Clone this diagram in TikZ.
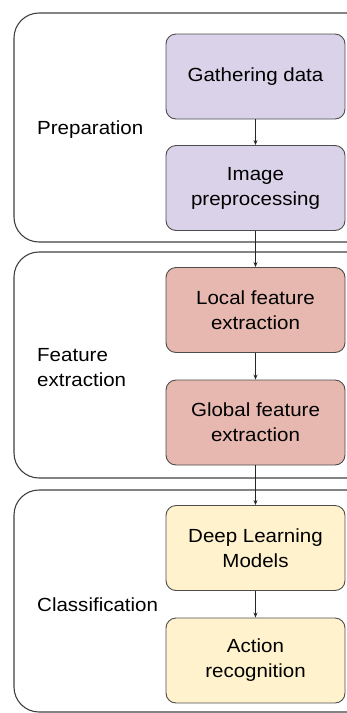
\documentclass[tikz,border=0pt]{standalone}
\usepackage{fontspec}
\setmainfont{Liberation Sans}[FakeStretch=1.08]
\usetikzlibrary{arrows.meta}
\definecolor{purp}{HTML}{D9D2E9}
\definecolor{redb}{HTML}{E6B8AF}
\definecolor{yelb}{HTML}{FFF2CC}
\begin{document}
\begin{tikzpicture}[x=1pt,y=-1pt,
 panel/.style={draw=black!75, line width=1.1pt, rounded corners=25pt},
 stepbox/.style={draw=black!70, line width=0.9pt, rounded corners=10pt, minimum width=179pt, minimum height=85pt, align=center, font=\fontsize{19}{25}\selectfont, inner sep=0pt},
 lbl/.style={anchor=west, align=left, font=\fontsize{19}{25}\selectfont, inner sep=0pt},
 arr/.style={-{Stealth[length=5pt,width=4pt]}, line width=0.8pt, draw=black!85}]
\useasboundingbox (0,0) rectangle (347,713);
\begin{scope}
\clip (0,0) rectangle (347,713);
\draw[panel] (14,13) rectangle (380,242);
\draw[panel] (14,252) rectangle (380,478);
\draw[panel] (14,490) rectangle (380,712);
\node[stepbox, fill=purp] (gather) at (255.5,76.5) {Gathering data};
\node[stepbox, fill=purp] (prep) at (255.5,188) {Image\\preprocessing};
\node[stepbox, fill=redb] (local) at (255.5,310) {Local feature\\extraction};
\node[stepbox, fill=redb] (global) at (255.5,422.5) {Global feature\\extraction};
\node[stepbox, fill=yelb] (deep) at (255.5,548) {Deep Learning\\Models};
\node[stepbox, fill=yelb] (action) at (255.5,660.5) {Action\\recognition};
\node[lbl] (l1) at (37,130) {Preparation};
\node[lbl] (l2) at (37,368) {Feature\\extraction};
\node[lbl] (l3) at (37,605) {Classification};
\draw[arr] (gather) -- (prep);
\draw[arr] (prep) -- (local);
\draw[arr] (local) -- (global);
\draw[arr] (global) -- (deep);
\draw[arr] (deep) -- (action);
\end{scope}
\end{tikzpicture}
\end{document}
